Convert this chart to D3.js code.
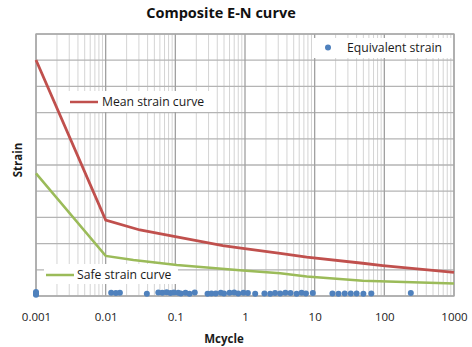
<!DOCTYPE html>
<html><head><meta charset="utf-8">
<script src="https://cdn.jsdelivr.net/npm/d3@7"></script>
<style>body{margin:0;background:#fff}text{font-family:"Open Sans","Liberation Sans",sans-serif}</style>
</head><body><svg id="c" width="472" height="347"></svg>
<script>
const xTicks = [0.001, 0.01, 0.1, 1, 10, 100, 1000];
const xTickLabels = ["0.001", "0.01", "0.1", "1", "10", "100", "1000"];
const meanX = [0.001, 0.01, 0.031, 0.084, 0.48, 0.93, 3.2, 7.7, 49, 95, 1000];
const meanY = [9.01, 2.90, 2.52, 2.30, 1.92, 1.82, 1.63, 1.48, 1.25, 1.16, 0.90];
const safeX = [0.001, 0.01, 0.025, 0.105, 0.93, 3.2, 7.7, 49, 1000];
const safeY = [4.68, 1.53, 1.37, 1.18, 0.97, 0.87, 0.74, 0.58, 0.48];
const eqX = [0.001, 0.001, 0.001, 0.001, 0.012, 0.014, 0.016, 0.039, 0.057, 0.065, 0.075, 0.085, 0.095, 0.11, 0.12, 0.14, 0.16, 0.19,
  0.29, 0.33, 0.38, 0.45, 0.5, 0.6, 0.7, 0.8, 0.95, 1.1, 1.4, 1.9, 2.3, 2.7, 3.2, 3.8, 4.5, 5.5, 6.5, 7.5, 9.4,
  18, 22, 27, 33, 40, 50, 65, 240];
const eqY = [0.05, 0.1, 0.15, 0.08, 0.12, 0.11, 0.12, 0.09, 0.13, 0.12, 0.14, 0.11, 0.13, 0.12, 0.1, 0.12, 0.09, 0.13,
  0.09, 0.1, 0.1, 0.12, 0.1, 0.12, 0.13, 0.1, 0.12, 0.11, 0.09, 0.1, 0.09, 0.11, 0.1, 0.12, 0.11, 0.09, 0.12, 0.1, 0.11,
  0.1, 0.09, 0.1, 0.1, 0.1, 0.09, 0.1, 0.11];
const yGrid = [0,1,2,3,4,5,6,7,8,9,10];

const svg = d3.select("#c");
const L = 36, R = 454, T = 34, B = 296;
const x = d3.scaleLog().domain([0.001, 1000]).range([L, R]);
const y = d3.scaleLinear().domain([0, 10]).range([B, T]);

// minor verticals
const minors = [];
for (let d = -3; d < 3; d++) for (let m = 2; m <= 9; m++) minors.push(m * Math.pow(10, d));
svg.append("g").selectAll("line").data(minors).join("line")
  .attr("x1", d => x(d)).attr("x2", d => x(d)).attr("y1", T).attr("y2", B)
  .attr("stroke", "#d4d4d4").attr("stroke-width", 1);
svg.append("g").selectAll("line").data(yGrid).join("line")
  .attr("x1", L).attr("x2", R).attr("y1", d => y(d)).attr("y2", d => y(d))
  .attr("stroke", "#b4b4b4").attr("stroke-width", 1.3);
svg.append("g").selectAll("line").data(xTicks).join("line")
  .attr("x1", d => x(d)).attr("x2", d => x(d)).attr("y1", T).attr("y2", B)
  .attr("stroke", "#a0a0a0").attr("stroke-width", 1.3);
svg.append("rect").attr("x", L).attr("y", T).attr("width", R - L).attr("height", B - T)
  .attr("fill", "none").attr("stroke", "#a8a8a8").attr("stroke-width", 1.3);

// legend background boxes
svg.append("rect").attr("x", 62).attr("y", 91).attr("width", 150).attr("height", 21).attr("fill", "#fff");
svg.append("rect").attr("x", 44).attr("y", 264).attr("width", 134).attr("height", 20).attr("fill", "#fff");
svg.append("rect").attr("x", 314).attr("y", 38).attr("width", 138).attr("height", 20).attr("fill", "#fff");

const line = d3.line().x(d => x(d[0])).y(d => y(d[1]));
svg.append("path").datum(safeX.map((v, i) => [v, safeY[i]])).attr("d", line)
  .attr("fill", "none").attr("stroke", "#9bbb59").attr("stroke-width", 2.5);
svg.append("path").datum(meanX.map((v, i) => [v, meanY[i]])).attr("d", line)
  .attr("fill", "none").attr("stroke", "#c0504d").attr("stroke-width", 2.8);
svg.append("g").selectAll("circle").data(eqX.map((v, i) => [v, eqY[i]])).join("circle")
  .attr("cx", d => x(d[0])).attr("cy", d => y(d[1])).attr("r", 3).attr("fill", "#4f81bd");

// axis labels
const ax = d3.axisBottom(x).tickValues(xTicks).tickFormat((d, i) => xTickLabels[i]).tickSize(0).tickPadding(17);
const g = svg.append("g").attr("transform", `translate(0,${B})`).call(ax);
g.select(".domain").remove();
g.selectAll("text").attr("font-size", 11.5).attr("fill", "#1a1a1a").style("font-family", "'Open Sans',sans-serif");

svg.append("text").attr("x", 221).attr("y", 18).attr("text-anchor", "middle")
  .attr("font-size", 14.5).attr("font-weight", "bold").attr("fill", "#111").text("Composite E-N curve");
svg.append("text").attr("x", 224).attr("y", 343).attr("text-anchor", "middle")
  .attr("font-size", 11.5).attr("font-weight", "bold").attr("fill", "#1a1a1a").text("Mcycle");
svg.append("text").attr("transform", "translate(22,160) rotate(-90)").attr("text-anchor", "middle")
  .attr("font-size", 11.5).attr("font-weight", "bold").attr("fill", "#1a1a1a").text("Strain");

// legends
svg.append("line").attr("x1", 70).attr("x2", 98).attr("y1", 102).attr("y2", 102).attr("stroke", "#c0504d").attr("stroke-width", 2.5);
svg.append("text").attr("x", 102).attr("y", 106).attr("font-size", 12.2).attr("fill", "#1a1a1a").text("Mean strain curve");
svg.append("line").attr("x1", 46).attr("x2", 74).attr("y1", 275).attr("y2", 275).attr("stroke", "#9bbb59").attr("stroke-width", 2.5);
svg.append("text").attr("x", 77).attr("y", 279).attr("font-size", 12.2).attr("fill", "#1a1a1a").text("Safe strain curve");
svg.append("circle").attr("cx", 328).attr("cy", 47.5).attr("r", 3).attr("fill", "#4f81bd");
svg.append("text").attr("x", 347).attr("y", 52).attr("font-size", 12.2).attr("fill", "#1a1a1a").text("Equivalent strain");
</script></body></html>
